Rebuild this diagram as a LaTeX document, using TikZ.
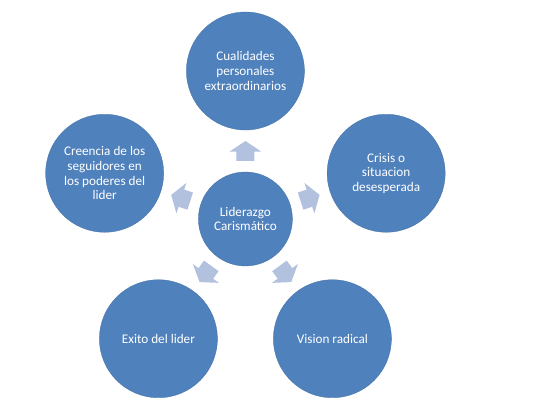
\documentclass[tikz,border=0pt]{standalone}
\usepackage{fontspec}
\setmainfont{Carlito}
\usetikzlibrary{calc}
\definecolor{circblue}{HTML}{4F81BD}
\definecolor{arrblue}{HTML}{B1C1DE}
\tikzset{
  big/.style={circle, fill=circblue, draw=circblue!85!black, line width=0.3pt, minimum size=118pt, inner sep=0pt, text=white, align=center, font=\fontsize{13.2}{14.6}\selectfont},
  hub/.style={big, minimum size=94pt},
  blockarrow/.style={fill=arrblue}
}
\begin{document}
\begin{tikzpicture}[x=1pt,y=1pt]
\useasboundingbox (0,0) rectangle (557,420);
\node[hub] (c) at (245.4,201) {Liderazgo\\Carismático};
\node[big] (n1) at ($(c)+(90:148)$) {Cualidades\\personales\\extraordinarios};
\node[big] (n2) at ($(c)+(18:148)$) {Crisis o\\situacion\\desesperada};
\node[big] (n3) at ($(c)+(-54:148)$) {Vision radical};
\node[big] (n4) at ($(c)+(-126:148)$) {Exito del lider};
\node[big] (n5) at ($(c)+(162:148)$) {Creencia de los\\seguidores en\\los poderes del\\lider};
\foreach \a in {90,18,-54,-126,162}{
  \begin{scope}[shift={(c.center)}, rotate=\a-90]
    \fill[blockarrow] (-9,58) -- (9,58) -- (9,67.3) -- (16,67.3) -- (0,78) -- (-16,67.3) -- (-9,67.3) -- cycle;
  \end{scope}
}
\end{tikzpicture}
\end{document}
